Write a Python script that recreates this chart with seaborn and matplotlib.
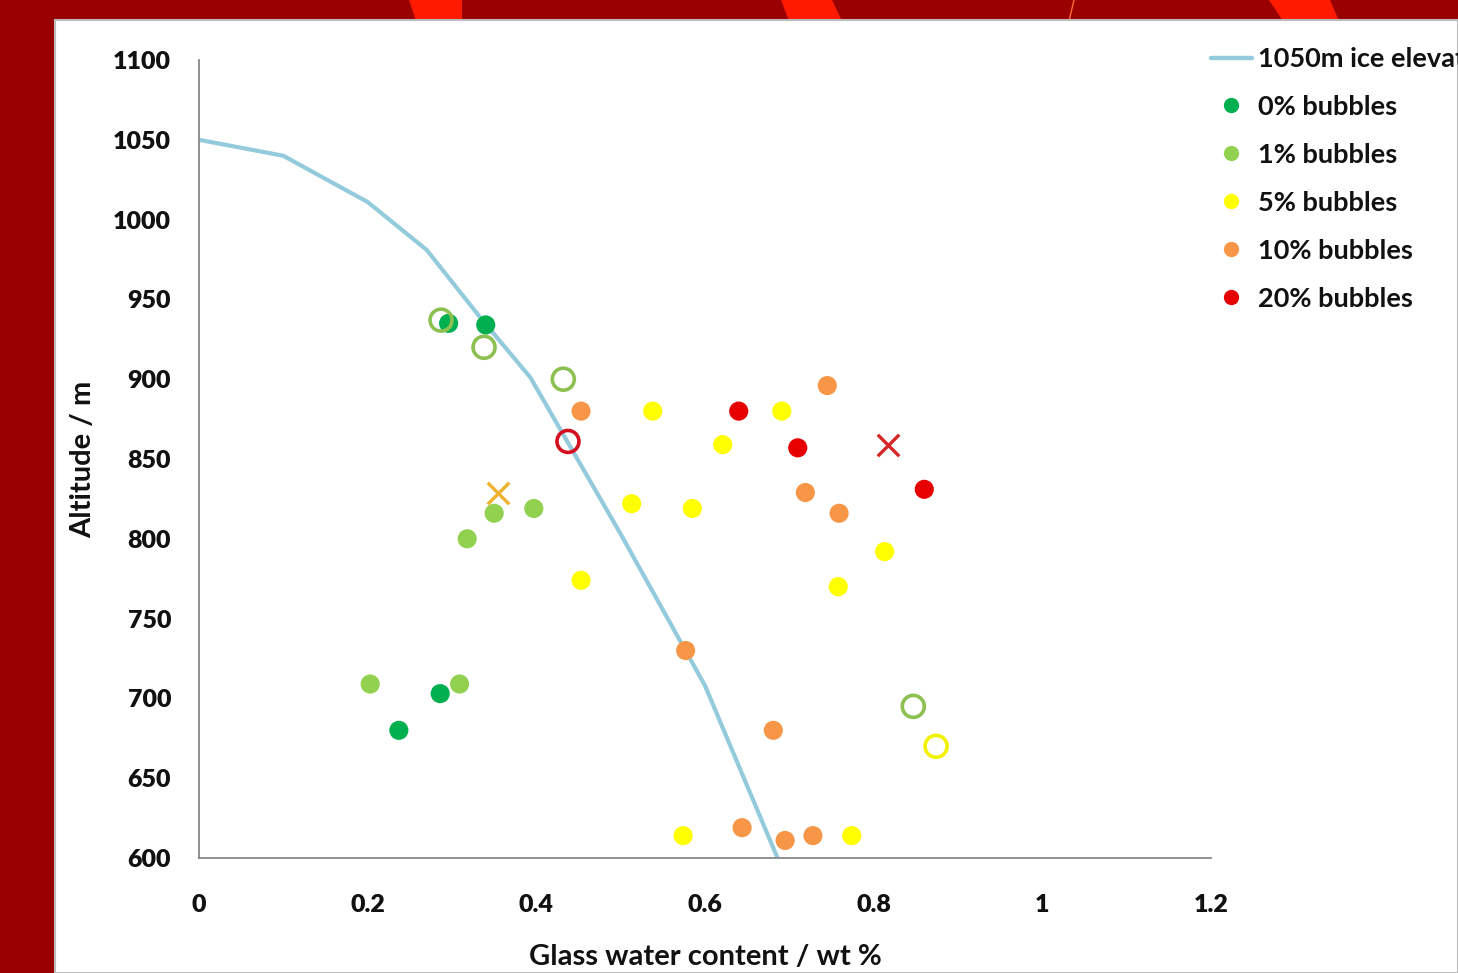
import matplotlib
matplotlib.use("Agg")
import matplotlib.pyplot as plt
from matplotlib.patches import Polygon, Rectangle
from matplotlib.lines import Line2D
import seaborn as sns
import pandas as pd

# ---------------- data ----------------
line_x = [0.0, 0.1, 0.2, 0.27, 0.333, 0.393, 0.5, 0.6, 0.686]
line_y = [1050, 1040, 1011, 981, 939, 901, 803, 708, 600]

g0_x = [0.296, 0.340, 0.286, 0.237]
g0_y = [935, 934, 703, 680]
g1_x = [0.318, 0.350, 0.397, 0.203, 0.309]
g1_y = [800, 816, 819, 709, 709]
g5_x = [0.538, 0.691, 0.621, 0.513, 0.585, 0.453, 0.813, 0.758, 0.574, 0.774]
g5_y = [880, 880, 859, 822, 819, 774, 792, 770, 614, 614]
g10_x = [0.453, 0.745, 0.719, 0.759, 0.577, 0.681, 0.644, 0.695, 0.728]
g10_y = [880, 896, 829, 816, 730, 680, 619, 611, 614]
g20_x = [0.640, 0.710, 0.860]
g20_y = [880, 857, 831]

open_green_x = [0.287, 0.338, 0.432, 0.847]
open_green_y = [937, 920, 900, 695]
open_yellow_x = [0.874]
open_yellow_y = [670]
open_red_x = [0.4375]
open_red_y = [861]
cross_orange_x = [0.355]
cross_orange_y = [829]
cross_red_x = [0.817]
cross_red_y = [859]

groups = ["0% bubbles", "1% bubbles", "5% bubbles", "10% bubbles", "20% bubbles"]
colors = ["#00B050", "#92D050", "#FFFF00", "#F79646", "#E60000"]
line_label = "1050m ice elevation"

x_ticks = [0, 0.2, 0.4, 0.6, 0.8, 1, 1.2]
x_ticklabels = ["0", "0.2", "0.4", "0.6", "0.8", "1", "1.2"]
y_ticks = [600, 650, 700, 750, 800, 850, 900, 950, 1000, 1050, 1100]
y_ticklabels = ["600", "650", "700", "750", "800", "850", "900", "950", "1000", "1050", "1100"]

# ---------------- build frames ----------------
rows = []
for name, xs, ys in zip(groups, [g0_x, g1_x, g5_x, g10_x, g20_x],
                        [g0_y, g1_y, g5_y, g10_y, g20_y]):
    for xv, yv in zip(xs, ys):
        rows.append({"wt": xv, "alt": yv, "group": name})
df = pd.DataFrame(rows)
line_df = pd.DataFrame({"wt": line_x, "alt": line_y})

# ---------------- figure ----------------
sns.set_theme(style="white")
plt.rcParams["font.family"] = ["Lato", "DejaVu Sans"]
plt.rcParams["font.weight"] = "bold"

W, H = 1458, 973
fig = plt.figure(figsize=(W / 100, H / 100), dpi=100, facecolor="#990000")

def fx(px):
    return px / W

def fy(py):
    return 1 - py / H

# background decorations (slide)
stripe_color = "#FF1A00"
for (tl, tr, bl, br) in [(409, 462, 416, 462), (781, 832, 789, 842), (1269, 1330, 1283, 1339)]:
    fig.patches.append(Polygon([(fx(tl), fy(0)), (fx(tr), fy(0)), (fx(br), fy(21)), (fx(bl), fy(21))],
                               closed=True, transform=fig.transFigure, facecolor=stripe_color,
                               edgecolor="none", zorder=-3))
fig.lines.append(Line2D([fx(1074), fx(1069)], [fy(0), fy(21)], transform=fig.transFigure,
                        color="#FF6A2A", lw=1, zorder=-3))
# white panel
fig.patches.append(Rectangle((fx(55), 0), 1 - fx(55), fy(20), transform=fig.transFigure,
                             facecolor="white", edgecolor="#BBBBBB", lw=1.5, zorder=-2))

ax = fig.add_axes([fx(199), fy(858), fx(1211) - fx(199), fy(60) - fy(858)])
ax.set_zorder(2)
ax.set_facecolor("none")

sns.lineplot(data=line_df, x="wt", y="alt", sort=False, color="#93CADC", lw=3.0, ax=ax,
             zorder=2)

sns.scatterplot(data=df, x="wt", y="alt", hue="group", hue_order=groups,
                palette=dict(zip(groups, colors)), s=190, edgecolor="none",
                legend=False, ax=ax, zorder=3)

for xs, ys, c in [(open_green_x, open_green_y, "#8CC152"),
                  (open_yellow_x, open_yellow_y, "#F2F200"),
                  (open_red_x, open_red_y, "#D41020")]:
    sns.scatterplot(x=xs, y=ys, marker="o", s=250, color=c, facecolor="none",
                    edgecolor=c, linewidth=2.6, ax=ax, zorder=4)
for xs, ys, c in [(cross_orange_x, cross_orange_y, "#EDB230"),
                  (cross_red_x, cross_red_y, "#D42828")]:
    sns.scatterplot(x=xs, y=ys, marker="x", s=240, color=c, linewidth=2.4, ax=ax, zorder=4)

ax.set_xlim(0, 1.2)
ax.set_ylim(600, 1100)
ax.set_xticks(x_ticks)
ax.set_xticklabels(x_ticklabels, fontweight="heavy")
ax.set_yticks(y_ticks)
ax.set_yticklabels(y_ticklabels, fontweight="heavy")
for s in ["top", "right"]:
    ax.spines[s].set_visible(False)
for s in ["left", "bottom"]:
    ax.spines[s].set_color("#888888")
    ax.spines[s].set_linewidth(1.3)
ax.tick_params(axis="both", which="major", direction="out", length=7, width=1.3,
               color="#888888", labelsize=18, labelcolor="#111111")
ax.tick_params(axis="x", pad=19)
ax.tick_params(axis="y", pad=13)
ax.set_xlabel("Glass water content / wt %", fontsize=21, fontweight="bold",
              color="#111111", labelpad=20)
ax.set_ylabel("Altitude / m", fontsize=21, fontweight="bold", color="#111111", labelpad=12)

handles = [Line2D([0], [0], color="#93CADC", lw=3.2, label=line_label)]
for g, c in zip(groups, colors):
    handles.append(Line2D([0], [0], marker="o", ls="none", markersize=11,
                          markerfacecolor=c, markeredgecolor="none", label=g))
leg = fig.legend(handles=handles, loc="upper left", bbox_to_anchor=(fx(1211), fy(47)),
                 frameon=False, fontsize=19.5, labelspacing=0.885, handlelength=1.5,
                 handletextpad=0.22, borderaxespad=0, borderpad=0)
for t in leg.get_texts():
    t.set_fontweight("bold")
    t.set_color("#111111")

fig.savefig("out.png", dpi=100, facecolor=fig.get_facecolor())
